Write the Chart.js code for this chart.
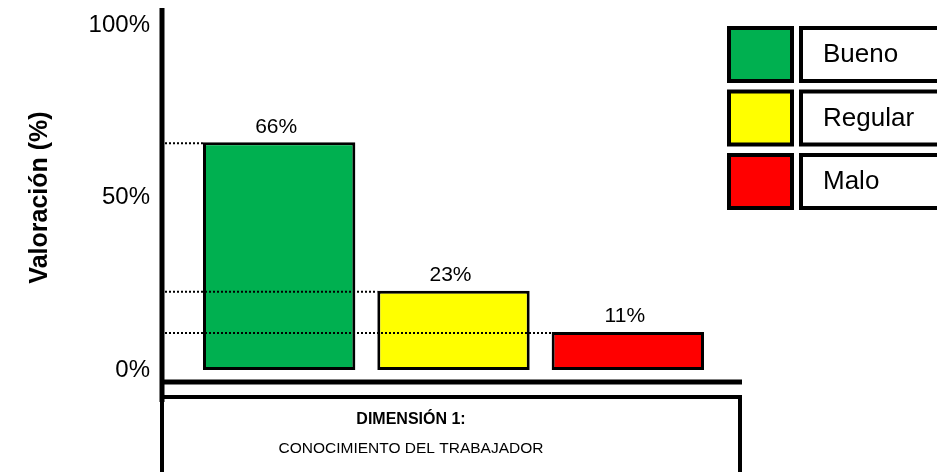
<!DOCTYPE html>
<html>
<head>
<meta charset="utf-8">
<script src="https://cdn.jsdelivr.net/npm/chart.js@4.4.1/dist/chart.umd.min.js"></script>
<style>
  body { margin: 0; background: #fff; }
  canvas { display: block; }
</style>
</head>
<body>
<canvas id="grafico" width="937" height="472"></canvas>
<script>
// datos
const categorias = ['Bueno', 'Regular', 'Malo'];
const valores = [66, 23, 11];
const colores = ['#00B050', '#FFFF00', '#FF0000'];
const ticksY = [0, 50, 100];
const tituloY = 'Valoración (%)';
const tituloX = ['DIMENSIÓN 1:', 'CONOCIMIENTO DEL TRABAJADOR'];

const fuente = "'Liberation Sans', Arial, sans-serif";

// ejes, líneas punteadas, etiquetas, leyenda y caja de dimensión
const dibujoExtra = {
  id: 'dibujoExtra',
  afterDatasetsDraw(chart) {
    const ctx = chart.ctx;
    const area = chart.chartArea;
    const ejeX = area.left - 30;
    const barras = chart.getDatasetMeta(0).data;

    ctx.save();
    // líneas punteadas desde el eje hasta cada barra
    ctx.strokeStyle = '#000';
    ctx.lineWidth = 2;
    ctx.setLineDash([2, 2]);
    barras.forEach(b => {
      ctx.beginPath();
      ctx.moveTo(ejeX + 3, b.y + 1);
      ctx.lineTo(b.x - b.width / 2, b.y + 1);
      ctx.stroke();
    });
    ctx.setLineDash([]);

    // valores sobre las barras
    ctx.fillStyle = '#000';
    ctx.font = '21px ' + fuente;
    ctx.textAlign = 'center';
    ctx.textBaseline = 'bottom';
    barras.forEach((b, i) => {
      ctx.fillText(valores[i] + '%', b.x - 3, b.y - 5);
    });
    ctx.restore();
  },
  afterDraw(chart) {
    const ctx = chart.ctx;
    const area = chart.chartArea;
    const ejeX = area.left - 30;
    const ejeY = area.bottom + 12;

    ctx.save();
    ctx.strokeStyle = '#000';
    // eje vertical
    ctx.lineWidth = 5;
    ctx.beginPath();
    ctx.moveTo(ejeX, 8);
    ctx.lineTo(ejeX, ejeY + 20);
    ctx.stroke();
    // eje horizontal
    ctx.beginPath();
    ctx.moveTo(ejeX - 2, ejeY);
    ctx.lineTo(742, ejeY);
    ctx.stroke();

    // caja de la dimensión
    ctx.lineWidth = 4;
    ctx.strokeRect(ejeX, ejeY + 15, 742 - ejeX - 2, 90);
    ctx.fillStyle = '#000';
    ctx.textAlign = 'center';
    ctx.textBaseline = 'middle';
    ctx.font = 'bold 16px ' + fuente;
    ctx.fillText(tituloX[0], 411, ejeY + 38);
    ctx.font = '15.5px ' + fuente;
    ctx.fillText(tituloX[1], 411, ejeY + 67);

    // leyenda
    ctx.textAlign = 'left';
    ctx.font = '26px ' + fuente;
    categorias.forEach((c, i) => {
      const y = 28 + i * 63.5;
      ctx.fillStyle = colores[i];
      ctx.fillRect(729, y, 63, 53);
      ctx.strokeRect(729, y, 63, 53);
      ctx.fillStyle = '#fff';
      ctx.fillRect(801, y, 150, 53);
      ctx.strokeRect(801, y, 150, 53);
      ctx.fillStyle = '#000';
      ctx.fillText(c, 823, y + 27);
    });
    ctx.restore();
  }
};

new Chart(document.getElementById('grafico'), {
  type: 'bar',
  data: {
    labels: categorias,
    datasets: [{
      data: valores,
      backgroundColor: colores,
      borderColor: '#000',
      borderWidth: 3,
      borderSkipped: false,
      barPercentage: 0.874,
      categoryPercentage: 1
    }]
  },
  options: {
    responsive: false,
    animation: false,
    layout: { padding: { top: 25, bottom: 102, left: 0, right: 222 } },
    plugins: {
      legend: { display: false },
      tooltip: { enabled: false }
    },
    scales: {
      x: { display: false },
      y: {
        min: 0,
        max: 100,
        afterBuildTicks: scale => { scale.ticks = ticksY.map(v => ({ value: v })); },
        afterFit: scale => {
          scale.width = 192;
          scale.paddingTop = 0;
          scale.paddingBottom = 0;
        },
        ticks: {
          callback: v => v + '%',
          color: '#000',
          font: { family: fuente, size: 24 },
          padding: 34
        },
        grid: { display: false },
        border: { display: false },
        title: {
          display: true,
          text: tituloY,
          color: '#000',
          font: { family: fuente, size: 25, weight: 'bold' },
          padding: { top: 25, bottom: 0 }
        }
      }
    }
  },
  plugins: [dibujoExtra]
});
</script>
</body>
</html>
